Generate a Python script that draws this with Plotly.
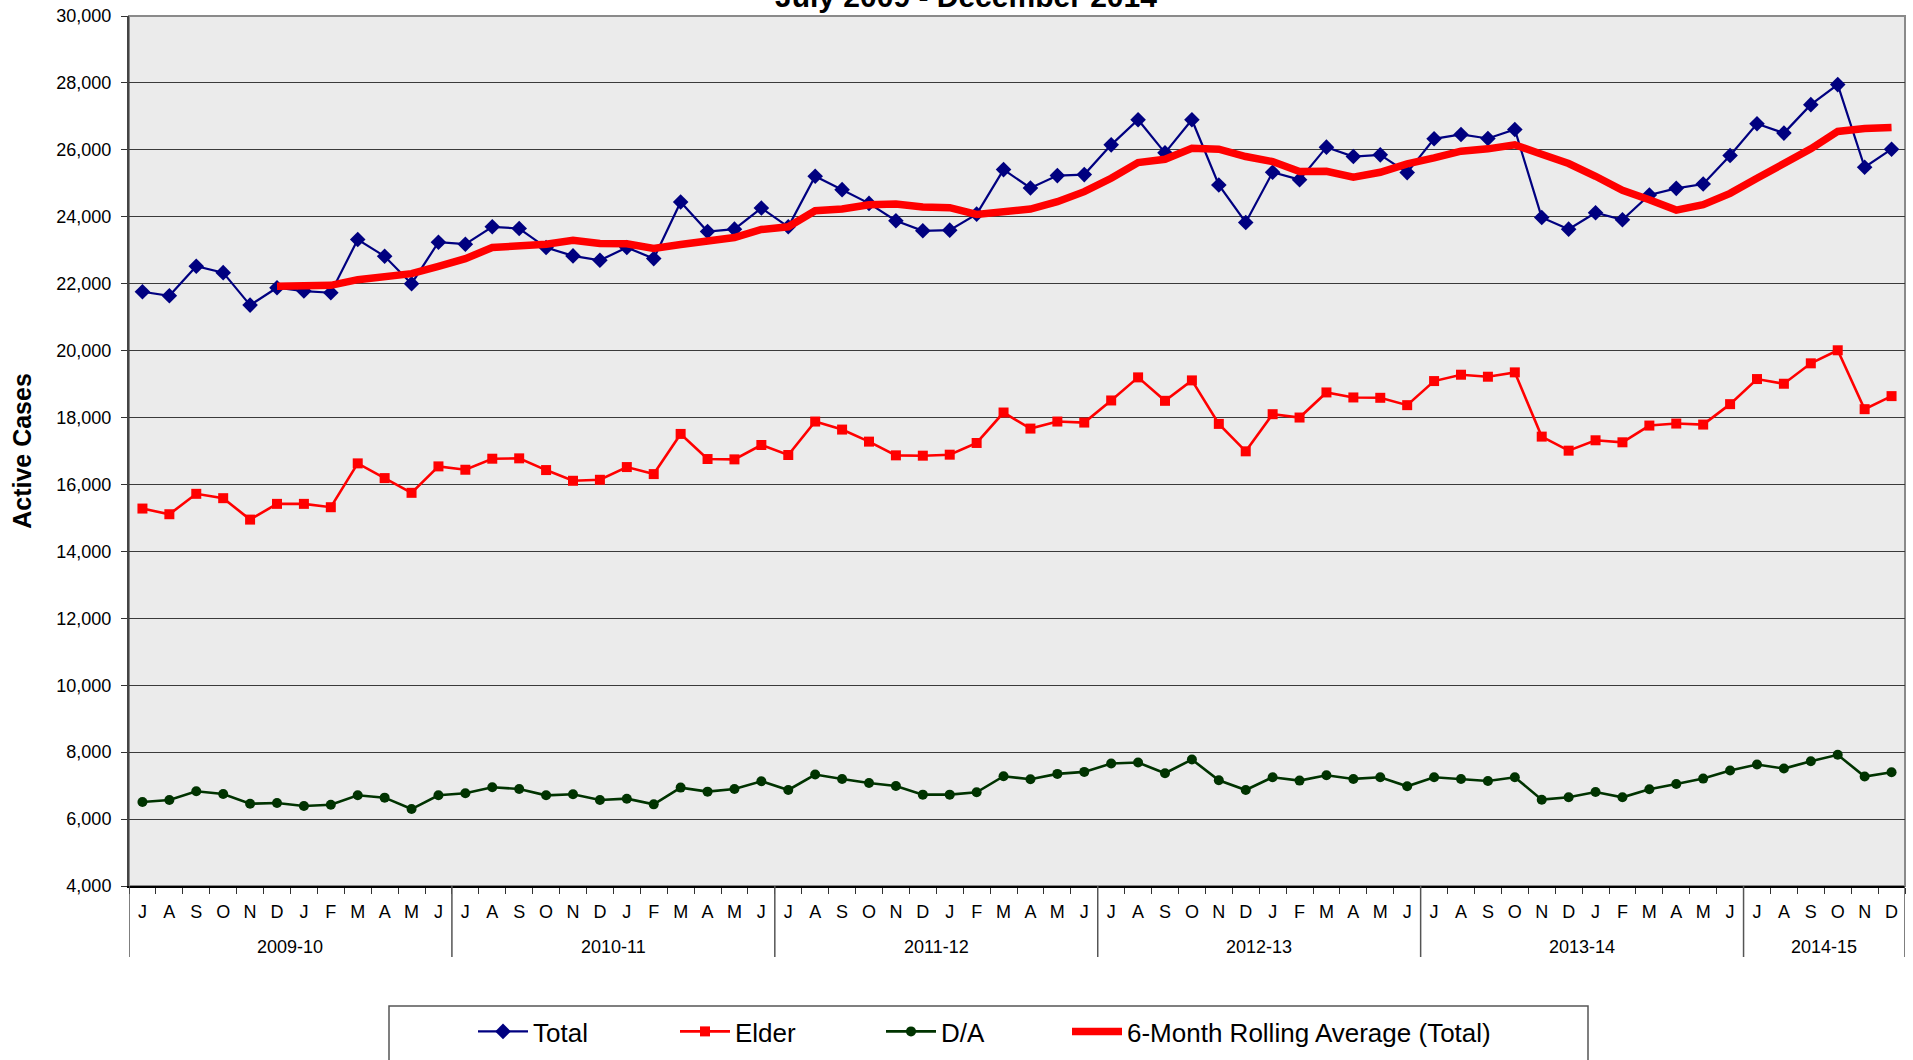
import numpy as np
import plotly.graph_objects as go

# ---------------- data ----------------
years = ["2009-10", "2010-11", "2011-12", "2012-13", "2013-14", "2014-15"]
months_per_year = [12, 12, 12, 12, 12, 6]
month_letters = ["J", "A", "S", "O", "N", "D", "J", "F", "M", "A", "M", "J"]

total = [21760, 21640, 22520, 22330, 21360, 21880, 21780, 21730, 23320, 22820, 22000, 23240,
         23180, 23700, 23650, 23080, 22830, 22700, 23080, 22750, 24440, 23560, 23630, 24260,
         23700, 25210, 24810, 24400, 23880, 23580, 23600, 24080, 25410, 24860, 25230, 25260,
         26150, 26900, 25910, 26900, 24950, 23830, 25330, 25110, 26080, 25800, 25850, 25320,
         26330, 26460, 26340, 26610, 23980, 23630, 24120, 23910, 24650, 24850, 24980, 25830,
         26780, 26500, 27350, 27950, 25480, 26020]

elder = [15280, 15110, 15720, 15590, 14950, 15420, 15420, 15320, 16630, 16190, 15750, 16540,
         16440, 16770, 16780, 16430, 16110, 16140, 16520, 16310, 17510, 16760, 16750, 17180,
         16880, 17880, 17640, 17280, 16870, 16860, 16890, 17240, 18150, 17670, 17880, 17850,
         18510, 19200, 18500, 19110, 17810, 16990, 18100, 18000, 18750, 18600, 18590, 18370,
         19090, 19280, 19220, 19350, 17430, 17010, 17320, 17260, 17760, 17820, 17790, 18400,
         19150, 19010, 19620, 20010, 18250, 18640]

da = [6510, 6570, 6830, 6750, 6460, 6480, 6390, 6430, 6710, 6640, 6300, 6710,
      6770, 6950, 6900, 6710, 6740, 6570, 6610, 6440, 6940, 6820, 6900, 7130,
      6870, 7330, 7200, 7080, 6990, 6730, 6730, 6800, 7280, 7190, 7350, 7410,
      7660, 7690, 7370, 7780, 7160, 6870, 7250, 7150, 7310, 7200, 7250, 6980,
      7250, 7200, 7140, 7250, 6580, 6650, 6810, 6650, 6890, 7050, 7210, 7450,
      7630, 7510, 7730, 7920, 7270, 7400]

rolling = [None, None, None, None, None,
           21920, 21930, 21950, 22120, 22200, 22300, 22520,
           22750, 23080, 23130, 23180, 23300, 23200, 23190, 23050, 23170, 23250, 23380, 23620,
           23700, 24180, 24230, 24360, 24380, 24290, 24270, 24070, 24160, 24230, 24450, 24750,
           25150, 25620, 25720, 26050, 26020, 25800, 25650, 25350, 25360, 25180, 25330, 25580,
           25760, 25960, 26030, 26150, 25870, 25590, 25210, 24790, 24510, 24200, 24360, 24700,
           25150, 25560, 26030, 26550, 26640, 26670]

tick_labels = []
for n in months_per_year:
    tick_labels += month_letters[:n]
x = np.arange(len(tick_labels))

FONT = "Arial, 'Liberation Sans', sans-serif"
W, H = 1913, 1060
ML, MR, MT, MB = 129, 8, 16, 174
PW = W - ML - MR
PH = H - MT - MB
PLOT_LEFT = ML
PLOT_BOTTOM = H - MB


def px_x(p):
    """page pixel x -> paper fraction"""
    return (p - PLOT_LEFT) / PW


def px_y(p):
    """page pixel y -> paper fraction"""
    return (PLOT_BOTTOM - p) / PH


fig = go.Figure()
fig.add_trace(go.Scatter(x=x, y=total, name="Total", mode="lines+markers", legend="legend",
                         line=dict(color="#000080", width=2.2),
                         marker=dict(symbol="diamond", size=12, color="#000080")))
fig.add_trace(go.Scatter(x=x, y=elder, name="Elder", mode="lines+markers", legend="legend2",
                         line=dict(color="#FF0000", width=2.6),
                         marker=dict(symbol="square", size=10, color="#FF0000")))
fig.add_trace(go.Scatter(x=x, y=da, name="D/A", mode="lines+markers", legend="legend3",
                         line=dict(color="#003300", width=2.6),
                         marker=dict(symbol="circle", size=10, color="#003300")))
fig.add_trace(go.Scatter(x=x, y=rolling, name="6-Month Rolling Average (Total)", mode="lines",
                         legend="legend4", line=dict(color="#FF0000", width=7.5)))

# year group labels and separators
shapes = []
annotations = []
start = 0
bounds = [-0.5]
for yr, n in zip(years, months_per_year):
    annotations.append(dict(x=start + (n - 1) / 2, y=px_y(947), xref="x", yref="paper",
                            text=yr, showarrow=False, yanchor="middle",
                            font=dict(family=FONT, size=18, color="black")))
    start += n
    bounds.append(start - 0.5)
for b in bounds:
    shapes.append(dict(type="line", xref="x", yref="paper", x0=b, x1=b, y0=0, y1=px_y(957),
                       line=dict(color="#555555", width=1.5)))

# plot frame (gray top/right)
shapes.append(dict(type="rect", xref="paper", yref="paper", x0=0, x1=1, y0=0, y1=1,
                   line=dict(color="#8a8a8a", width=2), layer="below"))
# legend box
shapes.append(dict(type="rect", xref="paper", yref="paper",
                   x0=px_x(389), x1=px_x(1588), y0=px_y(1075), y1=px_y(1006),
                   line=dict(color="#555555", width=1.5), fillcolor="white", layer="below"))

# title (partially cut off at page top, as in reference)
annotations.append(dict(x=px_x(966), y=px_y(-4), xref="paper", yref="paper",
                        text="<b>July 2009 - December 2014</b>", showarrow=False,
                        yanchor="middle", xanchor="center",
                        font=dict(family=FONT, size=30, color="black")))

legend_common = dict(orientation="h", xanchor="left", y=px_y(1008), yanchor="top",
                     font=dict(family=FONT, size=26, color="black"),
                     bgcolor="rgba(0,0,0,0)", borderwidth=0, itemwidth=50)

fig.update_layout(
    width=W, height=H,
    margin=dict(l=ML, r=MR, t=MT, b=MB, autoexpand=False),
    paper_bgcolor="white",
    plot_bgcolor="#ebebeb",
    font=dict(family=FONT, size=18, color="black"),
    shapes=shapes,
    annotations=annotations,
    showlegend=True,
    legend=dict(x=px_x(473), **legend_common),
    legend2=dict(x=px_x(675), **legend_common),
    legend3=dict(x=px_x(881), **legend_common),
    legend4=dict(x=px_x(1067), **legend_common),
)

fig.update_xaxes(range=[-0.5, len(x) - 0.5], tickmode="array", tickvals=x, ticktext=tick_labels,
                 ticks="outside", ticklen=0, tickfont=dict(family=FONT, size=18),
                 ticklabelstandoff=8, automargin=False,
                 showgrid=False, zeroline=False, showline=True, linecolor="black", linewidth=2,
                 minor=dict(tickmode="linear", tick0=0.5, dtick=1, ticks="outside",
                            ticklen=6, tickcolor="#333333", showgrid=False))
fig.update_yaxes(range=[4000, 30000], dtick=2000, tick0=4000, tickformat=",",
                 ticks="outside", ticklen=6, tickcolor="#333333", automargin=False,
                 tickfont=dict(family=FONT, size=18), ticklabelstandoff=6,
                 ticklabeloverflow="allow",
                 showgrid=True, gridcolor="#3a3a3a", gridwidth=1, zeroline=False,
                 showline=True, linecolor="#444444", linewidth=2,
                 title=dict(text="<b>Active Cases</b>", font=dict(family=FONT, size=25),
                            standoff=18))

# remove the browser's default 8px page margin so the figure sits at the page origin
fig.write_html("out.html", config={"displayModeBar": False},
               post_script="document.body.style.margin='0';")
